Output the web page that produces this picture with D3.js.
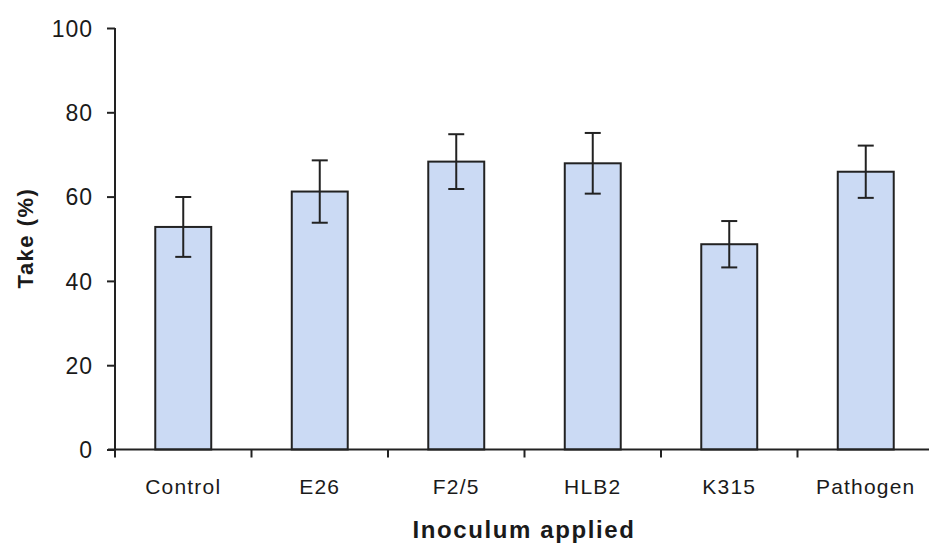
<!DOCTYPE html>
<html>
<head>
<meta charset="utf-8">
<script src="https://cdn.jsdelivr.net/npm/d3@7"></script>
<style>
  html, body { margin: 0; padding: 0; background: #fff; }
  svg { display: block; }
  text { font-family: "Liberation Sans", Arial, sans-serif; fill: #1a1a1a; }
</style>
</head>
<body>
<svg id="chart" width="929" height="548"></svg>
<script>
// Take (%) by inoculum, with error bars
const categories = ["Control", "E26", "F2/5", "HLB2", "K315", "Pathogen"];
const takeMeans = [52.8, 61.2, 68.3, 67.9, 48.7, 65.9];
const takeErrors = [7.1, 7.4, 6.5, 7.2, 5.5, 6.2];
const yTicks = [0, 20, 40, 60, 80, 100];

const svg = d3.select("#chart");
const ink = "#222";

const x = d3.scaleBand().domain(categories).range([115, 934]).paddingInner(0.59).paddingOuter(0.295);
const y = d3.scaleLinear().domain([0, 100]).range([449.5, 28]);

// bars
svg.append("g").selectAll("rect")
  .data(categories)
  .join("rect")
  .attr("x", d => x(d))
  .attr("y", (d, i) => y(takeMeans[i]))
  .attr("width", x.bandwidth())
  .attr("height", (d, i) => y(0) - y(takeMeans[i]))
  .attr("fill", "#cbdaf4")
  .attr("stroke", ink)
  .attr("stroke-width", 2);

// error bars
const eg = svg.append("g").attr("stroke", ink).attr("stroke-width", 2);
categories.forEach((c, i) => {
  const cx = x(c) + x.bandwidth() / 2;
  const hi = y(takeMeans[i] + takeErrors[i]);
  const lo = y(takeMeans[i] - takeErrors[i]);
  eg.append("line").attr("x1", cx).attr("x2", cx).attr("y1", hi).attr("y2", lo);
  eg.append("line").attr("x1", cx - 8).attr("x2", cx + 8).attr("y1", hi).attr("y2", hi);
  eg.append("line").attr("x1", cx - 8).attr("x2", cx + 8).attr("y1", lo).attr("y2", lo);
});

// y axis
const yAxis = svg.append("g")
  .attr("transform", "translate(115,0)")
  .call(d3.axisLeft(y).tickValues(yTicks).tickSize(8).tickPadding(14));
yAxis.select(".domain").attr("d", `M0,${y(100)}V${y(0) + 8}`).attr("stroke", ink).attr("stroke-width", 2);
yAxis.selectAll(".tick line").attr("stroke", ink).attr("stroke-width", 2);
yAxis.selectAll(".tick text").style("font-size", "23px").style("letter-spacing", "1px").attr("dy", "0.36em");

// x axis with ticks on band boundaries
const xAxis = svg.append("g").attr("transform", `translate(0,${y(0)})`);
xAxis.append("line").attr("x1", 108).attr("x2", 929).attr("stroke", ink).attr("stroke-width", 2);
const boundaries = categories.map(c => x(c) - x.step() * x.paddingInner() / 2);
xAxis.selectAll(".xt")
  .data(boundaries.slice(1))
  .join("line")
  .attr("x1", d => d).attr("x2", d => d)
  .attr("y1", 0).attr("y2", 8)
  .attr("stroke", ink).attr("stroke-width", 2);
xAxis.selectAll(".xl")
  .data(categories)
  .join("text")
  .attr("x", d => x(d) + x.bandwidth() / 2)
  .attr("y", 44.5)
  .attr("text-anchor", "middle")
  .style("font-size", "21px").style("letter-spacing", "1.2px")
  .text(d => d);

// axis titles
svg.append("text")
  .attr("x", 524).attr("y", 538)
  .attr("text-anchor", "middle")
  .style("font-size", "24px").style("font-weight", "bold").style("letter-spacing", "1.6px")
  .text("Inoculum applied");

svg.append("text")
  .attr("transform", "translate(33,238) rotate(-90)")
  .attr("text-anchor", "middle")
  .style("font-size", "22px").style("font-weight", "bold").style("letter-spacing", "1.5px")
  .text("Take (%)");
</script>
</body>
</html>
